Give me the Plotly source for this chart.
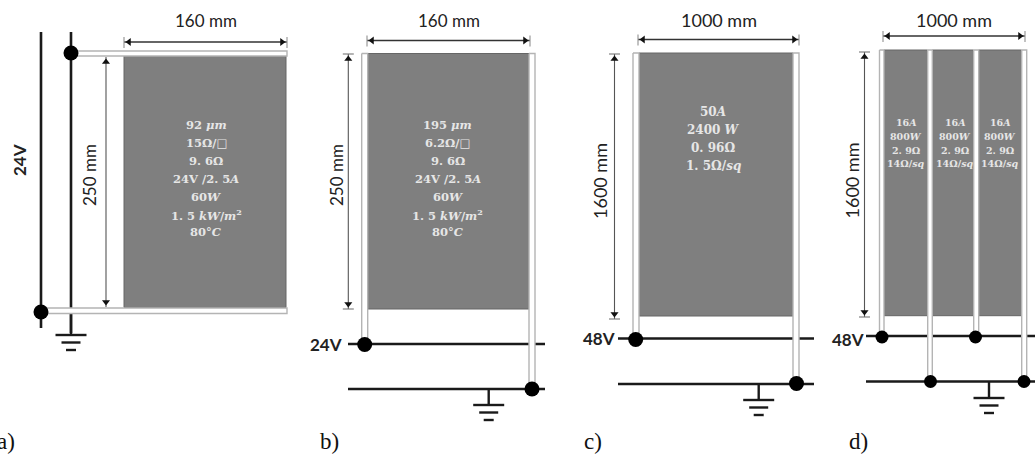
import plotly.graph_objects as go

# ---- text content ----
PANEL_A_TEXT = ["92 <i>μm</i>", "15Ω/□", "9. 6Ω", "24V /2. 5<i>A</i>", "60<i>W</i>", "1. 5 <i>kW</i>/<i>m</i><sup>2</sup>", "80°<i>C</i>"]
PANEL_B_TEXT = ["195 <i>μm</i>", "6.2Ω/□", "9. 6Ω", "24V /2. 5<i>A</i>", "60<i>W</i>", "1. 5 <i>kW</i>/<i>m</i><sup>2</sup>", "80°<i>C</i>"]
PANEL_C_TEXT = ["50<i>A</i>", "2400 <i>W</i>", "0. 96Ω", "1. 5Ω/<i>sq</i>"]
PANEL_D_TEXT = ["16<i>A</i>", "800<i>W</i>", "2. 9Ω", "14Ω/<i>sq</i>"]

# ---- schematic geometry (x0, x1, y0, y1) ----
HEATER_RECTS = [(124, 286, 56, 307.5), (367.7, 529, 53.5, 309), (639, 793, 53, 316),
                (884, 927.7, 50, 315.7), (932.3, 973.7, 50, 315.7), (978.7, 1021.7, 50, 315.7)]
BUS_STRIPS = [(72, 287, 51, 56), (41, 287, 308, 313.5),
              (361.7, 367.7, 53.5, 342), (529, 535, 53.5, 387),
              (633, 639, 53, 337), (793, 799, 53, 382),
              (879.5, 884, 50, 335), (927.7, 932.3, 50, 380),
              (973.7, 978.7, 50, 335), (1021.7, 1026.7, 50, 380)]
WIRES = [(41, 32, 41, 328), (71, 32, 71, 333),
         (348, 344, 545, 344), (348, 389, 545, 389),
         (618, 338.5, 814, 338.5), (618, 384, 814, 384),
         (866, 336, 1035, 336), (866, 381.5, 1035, 381.5)]
GROUND_STEMS = [(71, 313, 71, 335), (488.7, 389, 488.7, 405), (758.7, 384, 758.7, 400), (989, 381.5, 989, 398)]
NODE_X = [71, 41, 364.7, 532, 635.7, 796.5, 882, 930.5, 975.5, 1024]
NODE_Y = [53, 312, 344.5, 389, 339.5, 383.5, 337, 381.5, 337, 381.5]
NODE_SIZE = [15, 15, 15, 15, 15, 15, 13, 13, 13, 13]
HDIM = [(124, 287, 42), (367, 530, 40.5), (638, 799, 39.5), (883, 1025, 36)]
VDIM = [(106, 57, 307, False), (348.3, 54, 309, True), (614.5, 54, 319, True), (864.5, 52, 317, True)]
DIM_LABELS = [(206, 20, "160 mm", 0, 17), (449, 20, "160 mm", 0, 17), (719, 20, "1000 mm", 0, 18), (954, 20, "1000 mm", 0, 18),
              (89, 175, "250 mm", -90, 17), (336, 175, "250 mm", -90, 17), (600, 181, "1600 mm", -90, 18), (851.5, 181, "1600 mm", -90, 18)]
VOLT_LABELS = [(19, 160, "24V", -90), (325.5, 344, "24V", 0), (599, 338, "48V", 0), (847.5, 339, "48V", 0)]
PANEL_LABELS = [(6, 441, "a)"), (329, 441, "b)"), (593, 441, "c)"), (858, 441, "d)")]
TEXT_BLOCKS = [(206, [125, 143, 161, 179, 197, 214.5, 232], PANEL_A_TEXT, 11.5),
               (447.5, [125, 143, 161, 179, 197, 214.5, 232], PANEL_B_TEXT, 11.5),
               (713, [112, 130, 148, 166], PANEL_C_TEXT, 12),
               (906, [122.5, 136, 150, 163.5], PANEL_D_TEXT, 9.5),
               (955, [122.5, 136, 150, 163.5], PANEL_D_TEXT, 9.5),
               (1000, [122.5, 136, 150, 163.5], PANEL_D_TEXT, 9.5)]

GRAY = "#7f7f7f"
DARK = "#1a1a1a"
fig = go.Figure()


def segs(items, color, width):
    xs, ys = [], []
    for x0, y0, x1, y1 in items:
        xs += [x0, x1, None]
        ys += [y0, y1, None]
    fig.add_trace(go.Scatter(x=xs, y=ys, mode="lines", line=dict(color=color, width=width), hoverinfo="skip"))


def rects(items, fill, color, width):
    xs, ys = [], []
    for x0, x1, y0, y1 in items:
        xs += [x0, x1, x1, x0, x0, None]
        ys += [y0, y0, y1, y1, y0, None]
    fig.add_trace(go.Scatter(x=xs, y=ys, mode="lines", fill="toself", fillcolor=fill,
                             line=dict(color=color, width=width), hoverinfo="skip"))


def arrows(xs, ys, symbol):
    fig.add_trace(go.Scatter(x=xs, y=ys, mode="markers", hoverinfo="skip",
                             marker=dict(symbol=symbol, size=7, color="#111111", opacity=1, line=dict(width=0))))


segs(WIRES, DARK, 2.6)
segs(GROUND_STEMS, DARK, 2.4)
ground_bars = []
for sx, _, _, sy in GROUND_STEMS:
    ground_bars += [(sx - 15.5, sy, sx + 15.5, sy), (sx - 9.5, sy + 7.5, sx + 9.5, sy + 7.5), (sx - 5, sy + 15, sx + 5, sy + 15)]
segs(ground_bars, DARK, 2.4)

rects(HEATER_RECTS, GRAY, "#666666", 1)
rects(BUS_STRIPS, "#ffffff", "#b4b4b4", 1.4)

# dimension lines
h_lines, h_ticks, v_lines, v_ticks = [], [], [], []
for x0, x1, y in HDIM:
    h_lines.append((x0, y, x1, y))
    h_ticks += [(x0, y - 5, x0, y + 6), (x1, y - 5, x1, y + 6)]
for x, y0, y1, ticked in VDIM:
    v_lines.append((x, y0, x, y1))
    if ticked:
        v_ticks += [(x - 5.5, y0, x + 5.5, y0), (x - 5.5, y1, x + 5.5, y1)]
segs(h_lines, "#333333", 1.3)
segs(h_ticks, "#999999", 1.2)
segs(v_lines, "#555555", 1.1)
segs(v_ticks, "#777777", 1.1)
arrows([d[0] + 5 for d in HDIM], [d[2] for d in HDIM], "triangle-left")
arrows([d[1] - 5 for d in HDIM], [d[2] for d in HDIM], "triangle-right")
arrows([d[0] for d in VDIM], [d[1] + 5 for d in VDIM], "triangle-up")
arrows([d[0] for d in VDIM], [d[2] - 5 for d in VDIM], "triangle-down")

fig.add_trace(go.Scatter(x=NODE_X, y=NODE_Y, mode="markers", hoverinfo="skip",
                         marker=dict(size=NODE_SIZE, color="#000000", opacity=1, line=dict(width=0))))

ann = []
for x, y, t, a, s in DIM_LABELS:
    ann.append(dict(x=x, y=y, text=t, textangle=a, font=dict(family="Lato", size=s, color="#222222")))
for x, y, t, a in VOLT_LABELS:
    ann.append(dict(x=x, y=y, text=f"<b>{t}</b>", textangle=a, font=dict(family="Lato", size=17, color="#222222")))
for x, y, t in PANEL_LABELS:
    ann.append(dict(x=x, y=y, text=t, font=dict(family="Liberation Serif", size=23, color="#111111")))
for x, ys, lines, size in TEXT_BLOCKS:
    for y, t in zip(ys, lines):
        ann.append(dict(x=x, y=y, text=f"<b>{t}</b>", font=dict(family="DejaVu Serif", size=size, color="#e6e6e6")))
for a in ann:
    a.update(xref="x", yref="y", showarrow=False, xanchor="center", yanchor="middle")

fig.update_layout(width=1035, height=455, margin=dict(l=0, r=0, t=0, b=0), showlegend=False,
                  paper_bgcolor="white", plot_bgcolor="white", annotations=ann,
                  xaxis=dict(range=[0, 1035], visible=False, fixedrange=True),
                  yaxis=dict(range=[455, 0], visible=False, fixedrange=True))
fig.write_html("out.html", config={"displayModeBar": False},
               post_script="document.body.style.margin='0';document.body.style.overflow='hidden';")
